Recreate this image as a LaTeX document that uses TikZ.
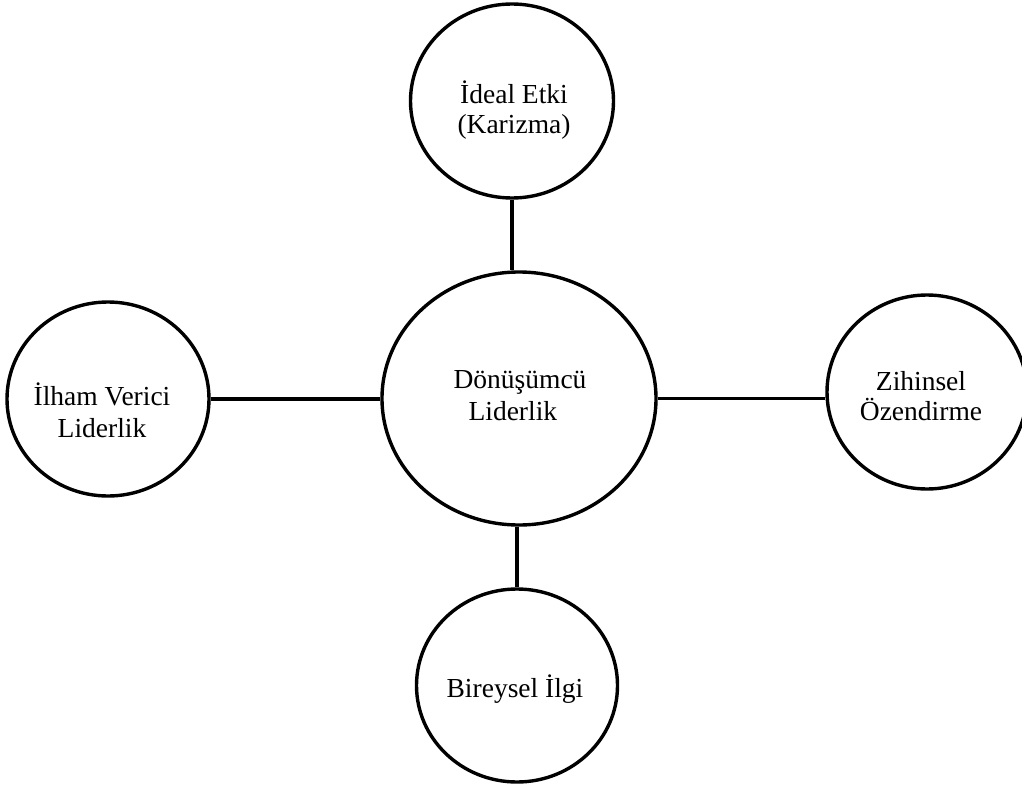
\documentclass[tikz,border=0pt]{standalone}
\usepackage{fontspec}
\setmainfont{Liberation Serif}
\usetikzlibrary{shapes.geometric}
\begin{document}
\begin{tikzpicture}[x=1pt,y=-1pt,
  bub/.style={draw=black,line width=3.4pt,ellipse,inner sep=0pt,fill=white},
  lbl/.style={inner sep=0pt,anchor=base,font=\fontsize{27.5}{30}\selectfont},
  conn/.style={draw=black,line width=3.4pt}]
\useasboundingbox[fill=white] (0,0) rectangle (1022,789);
\node[bub,minimum width=274pt,minimum height=253pt] (center) at (519,398.5) {};
\node[bub,minimum width=203pt,minimum height=194pt] (top) at (512,101) {};
\node[bub,minimum width=202pt,minimum height=194pt] (left) at (108,399) {};
\node[bub,minimum width=200pt,minimum height=194pt] (right) at (927,392) {};
\node[bub,minimum width=201pt,minimum height=193pt] (bottom) at (517,685.5) {};
\draw[conn] (top.south) -- (top.south |- center.north);
\draw[conn] (left.east) -- (left.east -| center.west);
\draw[conn] (center.east) -- (center.east -| right.west);
\draw[conn] (bottom.north |- center.south) -- (bottom.north);
\node[lbl,align=center] (ttop) at (514,133) {İdeal Etki\\[-1pt](Karizma)};
\node[lbl,align=left] (tcenter) at (520,420) {Dönüşümcü\\[2pt]\hspace*{15pt}Liderlik};
\node[lbl,align=center] (tleft) at (102,437) {İlham Verici\\[2pt]Liderlik};
\node[lbl,align=center] (tright) at (921,420) {Zihinsel\\Özendirme};
\node[lbl] (tbottom) at (515,697) {Bireysel İlgi};
\end{tikzpicture}
\end{document}
